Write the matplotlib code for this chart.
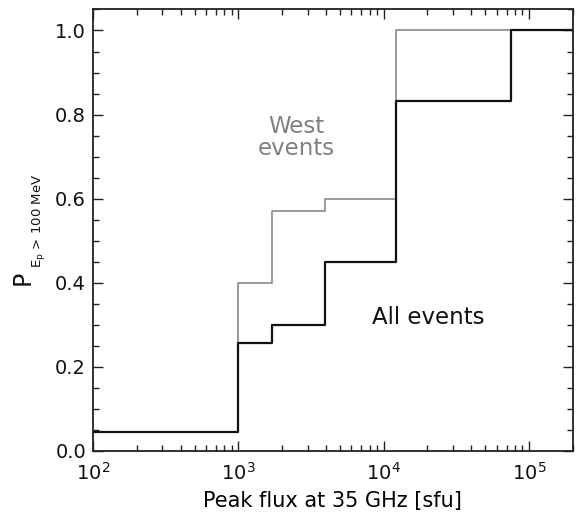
import matplotlib
matplotlib.use("Agg")
import matplotlib.pyplot as plt
import matplotlib.ticker as mticker

# ── Data ──────────────────────────────────────────────────────
all_edges = [100, 1000, 1715, 3920, 12190, 75000, 2e5]
all_prob  = [0.045, 0.256, 0.30, 0.45, 0.833, 1.0]

west_edges = [100, 1000, 1715, 3920, 12190, 2e5]
west_prob  = [0.045, 0.40, 0.57, 0.60, 1.0]

x_limits = (100, 2e5)
y_limits = (0.0, 1.05)
y_ticks  = [0.0, 0.2, 0.4, 0.6, 0.8, 1.0]

plt.rcParams["font.family"] = ["DejaVu Sans"]
plt.rcParams["mathtext.default"] = "regular"

W, H = 578, 514
fig = plt.figure(figsize=(W / 100, H / 100), dpi=100)
ax = fig.add_axes([0.161, 0.1226, 0.830, 0.859])

# West first so the black curve sits on top where they overlap
ax.step(west_edges, west_prob + [west_prob[-1]], where="post",
        color="#8a8a8a", linewidth=1.2)
ax.step(all_edges, all_prob + [all_prob[-1]], where="post",
        color="#111111", linewidth=1.6)

ax.set_xscale("log")
ax.set_xlim(*x_limits)
ax.set_ylim(*y_limits)
ax.set_yticks(y_ticks)
ax.yaxis.set_major_formatter(mticker.FormatStrFormatter("%.1f"))
ax.yaxis.set_minor_locator(mticker.MultipleLocator(0.05))
ax.xaxis.set_minor_locator(mticker.LogLocator(base=10, subs=range(2, 10)))
ax.xaxis.set_minor_formatter(mticker.NullFormatter())

ax.tick_params(which="both", direction="in", top=True, right=True,
               width=1.0, colors="#222222", labelcolor="#111111")
ax.tick_params(which="major", length=7, labelsize=14)
ax.tick_params(axis="y", which="major", pad=5)
ax.tick_params(axis="x", which="major", pad=8)
ax.tick_params(which="minor", length=4)
for sp in ax.spines.values():
    sp.set_linewidth(1.3)
    sp.set_color("#222222")

ax.set_xlabel("Peak flux at 35 GHz [sfu]", fontsize=15, labelpad=5)

# y label: big P with a small subscript, built from two rotated texts
fig.text(30 / W, 1 - 285 / H, "P", fontsize=17, rotation=90,
         rotation_mode="anchor", ha="left", va="baseline", color="#111111")
fig.text(41 / W, 1 - 268 / H, r"$E_p$ > 100 MeV", fontsize=9.5, rotation=90,
         rotation_mode="anchor", ha="left", va="baseline", color="#111111")

ax.text(2520, 0.745, "West\nevents", color="#808080", fontsize=16.5,
        ha="center", va="center", linespacing=0.95)
ax.text(8240, 0.317, "All events", color="#111111", fontsize=16.5,
        ha="left", va="center")

fig.savefig("out.png", dpi=100)
